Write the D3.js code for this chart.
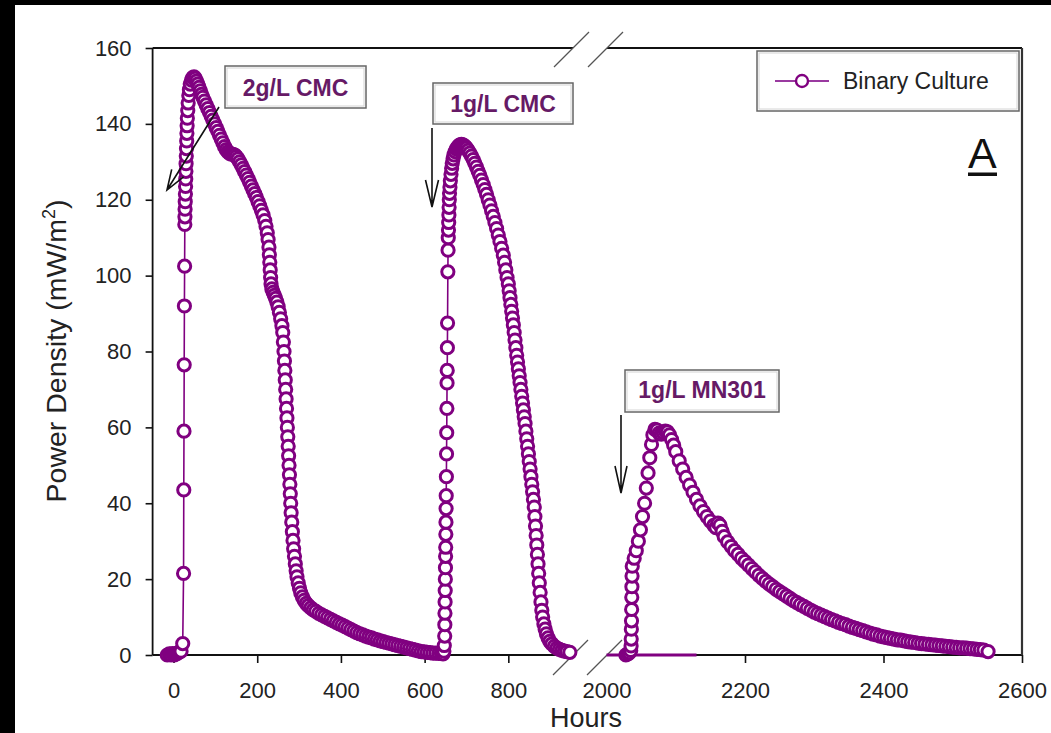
<!DOCTYPE html>
<html><head><meta charset="utf-8">
<script src="https://cdn.jsdelivr.net/npm/d3@7"></script>
<style>
body{margin:0;background:#fff;}
svg{display:block;}
text{font-family:"Liberation Sans", Arial, Helvetica, sans-serif;}
</style></head><body>
<svg id="chart" width="1051" height="733"></svg>
<script>
// ---------------- data ----------------
const yTicks = [0, 20, 40, 60, 80, 100, 120, 140, 160];
const leftTicks = [0, 200, 400, 600, 800];
const rightTicks = [2000, 2200, 2400, 2600];
const seriesName = "Binary Culture";
const annotationLabels = ["2g/L CMC", "1g/L CMC", "1g/L MN301"];
const panelLabel = "A";
const xTitle = "Hours";

// [hours, power density mW/m2]
const run2gCMC = [
[-15,0],[-10,0.3],[-6,0],[-2,0.4],[2,0],[6,0.3],[10,0.5],[14,0.8],[18,1],[22,3],
[24,21.5],[24.5,43.5],[25,59],[25.5,76.5],[26,92],[26.5,102.5],[27,113.5],[27.3,115.5],[27.6,117.5],[28,119.5],
[28.4,121.5],[28.8,123.5],[29.2,125.5],[29.6,127.5],[30,129.5],[30.5,131.5],[31,133.5],[31.5,135.5],[32,137.5],[32.5,139.5],
[33,141.5],[34,143.5],[35,145.5],[36.5,147.5],[38,149],[40,150.5],[43,151.5],[46,152.2],[49,152.4],[52,152],
[55,151.3],[58,150.5],[61,149.6],[64,148.7],[67,147.8],[70,147],[74,146],[78,145],[82,144],[86,143],
[90,142],[94,141],[98,140],[102,139],[106,138],[110,137],[114,136],[118,135],[122,134],[126,133.2],
[130,132.6],[134,132.2],[138,132],[142,132],[146,131.8],[150,131.4],[154,130.8],[158,130],[162,129.2],[166,128.3],
[170,127.4],[174,126.5],[178,125.6],[182,124.6],[186,123.6],[190,122.6],[194,121.6],[198,120.6],[202,119.5],[206,118.4],
[210,117.2],[214,116],[218,114.5],[221,113],[224,111.3],[226,109.5],[228,107.5],[229,105.5],[230,103.5],[231,101.5],
[232,99.5],[233,97.8],[235,96.5],[238,95.6],[241,94.8],[244,94],[247,93],[250,91.8],[253,90.3],[256,88.6],
[259,86.8],[261,85],[262.5,82.5],[264,80],[265,77.5],[266,75],[267,72.5],[268,70],[269,67.5],[270,65],
[271,62.5],[272,60],[273,57.5],[274,55],[275,52.5],[276,50],[277,47.5],[278,45],[279,42.5],[280,40],
[281,37.5],[282.5,35],[284,32.5],[285.5,30.2],[287,28],[289,26],[291,24],[293,22.2],[295,20.6],[298,19],
[301,17.6],[304,16.4],[308,15.3],[312,14.4],[317,13.6],[322,13],[328,12.4],[334,11.9],[340,11.5],[347,11],
[354,10.6],[361,10.2],[368,9.8],[375,9.4],[382,9],[389,8.6],[396,8.2],[403,7.9],[410,7.5],[417,7.1],
[424,6.7],[431,6.3],[438,5.9],[445,5.6],[452,5.3],[459,5],[466,4.7],[473,4.5],[480,4.2],[487,4],
[494,3.7],[501,3.5],[508,3.3],[515,3.1],[522,2.9],[529,2.7],[536,2.5],[543,2.3],[550,2.1],[557,1.9],
[564,1.7],[571,1.5],[578,1.3],[585,1.1],[592,0.9],[599,0.8],[606,0.7],[613,0.6],[620,0.5],[627,0.5],
[634,0.4],[640,0.5]
];

const run1gCMC = [
[644,0.3],[646,1],[647,2.5],[648,5],[648.3,8],[648.6,11],[648.9,14],[649.2,17],[649.5,20],[649.8,23],
[650.1,26],[650.4,28.4],[650.7,31.8],[651,35],[651.3,38.6],[651.6,42],[652,47],[652.4,53],[652.8,58.6],[653.2,65],
[653.6,71.7],[654,75],[654.4,81],[654.8,87.5],[655.5,101],[656,106.7],[656.5,110],[657,112],[657.5,114],[658,116],
[658.5,118],[659,120],[659.5,121.7],[660.5,123.3],[661.5,125],[663,126.7],[664.5,128.3],[666,129.6],[668,130.8],[670,131.8],
[673,132.7],[676,133.4],[679,133.9],[682,134.3],[685,134.5],[688,134.6],[691,134.5],[694,134.3],[697,134],[700,133.6],
[704,133],[708,132.3],[712,131.5],[716,130.6],[720,129.6],[724,128.6],[728,127.5],[732,126.4],[736,125.2],[740,124],
[744,122.7],[748,121.4],[752,120],[756,118.6],[760,117.1],[764,115.6],[768,114],[772,112.4],[776,110.7],[780,109],
[784,107.2],[788,105.4],[791,103.5],[794,101.5],[797,99.5],[800,97.8],[802,96],[804,94.2],[806,92.4],[808,90.6],
[810,88.8],[812,87],[814,85],[816,83],[818,81],[820,79],[822,77.2],[824,75.4],[826,73.6],[828,71.8],
[830,70],[832,68.2],[834,66.4],[836,64.6],[838,62.8],[840,61],[842,59],[844,57],[846,55],[848,53],
[850,51],[852,49],[854,47],[856,45],[858,43],[860,41],[862,39],[863.5,36.5],[865,34],[866.5,31.5],
[868,29],[869.5,26.5],[871,24],[872.5,21.5],[874,19],[876,16.5],[878,14],[880,11.8],[882,10],[885,8.2],
[888,6.8],[891,5.6],[895,4.5],[899,3.6],[904,2.9],[910,2.3],[916,1.8],[922,1.5],[928,1.2],[934,1],
[940,0.9],[947,0.7]
];

const runMN301 = [
[2028,0],[2031,0.3],[2033,0.6],[2035,1.2],[2035.5,2.4],[2035.7,4.2],[2035.9,6.8],[2036.1,9],[2036.3,12],[2036.5,15.2],
[2036.7,18],[2036.9,20.8],[2037.2,23.4],[2040,25.5],[2043,27.5],[2046,30],[2049,33],[2052,36.5],[2055,40],[2057.5,44],
[2060,48],[2062.5,52],[2065,55.5],[2067,58],[2070,59.5],[2073,59.3],[2076,58.5],[2079,58.2],[2082,58.6],[2085,59],
[2088,58.8],[2091,58],[2094,56.8],[2097,55.3],[2100,53.6],[2105,51.2],[2110,49],[2115,46.8],[2120,44.8],[2125,42.9],
[2130,41],[2135,39.3],[2140,37.8],[2145,36.5],[2150,35.3],[2155,34.2],[2158,33.6],[2161,34.8],[2164,34.2],[2167,32.6],
[2170,31.2],[2175,29.8],[2180,28.6],[2185,27.5],[2190,26.5],[2195,25.5],[2200,24.6],[2205,23.7],[2210,22.8],[2215,21.9],
[2220,21],[2225,20.2],[2230,19.4],[2235,18.7],[2240,18],[2245,17.3],[2250,16.7],[2255,16.1],[2260,15.5],[2265,14.9],
[2270,14.3],[2275,13.8],[2280,13.3],[2285,12.8],[2290,12.3],[2295,11.8],[2300,11.3],[2305,10.9],[2310,10.5],[2315,10.1],
[2320,9.7],[2325,9.3],[2330,9],[2335,8.6],[2340,8.3],[2345,8],[2350,7.6],[2355,7.3],[2360,7],[2365,6.7],
[2370,6.4],[2375,6.1],[2380,5.8],[2385,5.5],[2390,5.3],[2395,5],[2400,4.8],[2405,4.6],[2410,4.4],[2415,4.2],
[2420,4],[2425,3.9],[2430,3.7],[2435,3.5],[2440,3.4],[2445,3.3],[2450,3.1],[2455,3],[2460,2.9],[2465,2.8],
[2470,2.7],[2475,2.6],[2480,2.5],[2485,2.4],[2490,2.3],[2495,2.2],[2500,2.1],[2505,2],[2510,1.9],[2515,1.9],
[2520,1.8],[2525,1.7],[2530,1.6],[2535,1.5],[2540,1.4],[2545,1.3],[2551,0.9]
];

const mn301Baseline = [[2000,0],[2130,0]];

// ---------------- drawing ----------------
const svg = d3.select("#chart");
const purple = "#800080";
const labelPurple = "#661a66";

svg.append("rect").attr("x",0).attr("y",0).attr("width",1051).attr("height",733).attr("fill","#fff");
svg.append("rect").attr("x",0).attr("y",0).attr("width",1051).attr("height",5).attr("fill","#000");
svg.append("rect").attr("x",0).attr("y",0).attr("width",15).attr("height",733).attr("fill","#000");

const xL = d3.scaleLinear().domain([-50, 950]).range([152.6, 571.1]);
const xR = d3.scaleLinear().domain([2000, 2600]).range([606.5, 1022]);
const y = d3.scaleLinear().domain([0, 160]).range([655, 48]);

const leftEdge = xL.range()[0], rightEdge = xR.range()[1];
const yTop = y(160), yBottom = y(0);
const breakL = 573, breakR = 607;

const g = svg.append("g");

// frame (broken at the axis gap)
const frame = g.append("g").attr("stroke","#111").attr("stroke-width",1.8).attr("fill","none");
frame.append("line").attr("x1",leftEdge).attr("x2",breakL).attr("y1",yBottom).attr("y2",yBottom);
frame.append("line").attr("x1",breakR).attr("x2",rightEdge).attr("y1",yBottom).attr("y2",yBottom);
frame.append("line").attr("x1",leftEdge).attr("x2",breakL).attr("y1",yTop).attr("y2",yTop);
frame.append("line").attr("x1",breakR).attr("x2",rightEdge).attr("y1",yTop).attr("y2",yTop);
frame.append("line").attr("x1",leftEdge).attr("x2",leftEdge).attr("y1",yTop).attr("y2",yBottom);
frame.append("line").attr("x1",rightEdge).attr("x2",rightEdge).attr("y1",yTop).attr("y2",yBottom).attr("stroke","#333").attr("stroke-width",2.2);

// break slashes
const slashes = g.append("g").attr("stroke","#555").attr("stroke-width",1.2);
[breakL, breakR].forEach(cx => {
  slashes.append("line").attr("x1",cx-19).attr("y1",yTop+19).attr("x2",cx+16).attr("y2",yTop-16);
  slashes.append("line").attr("x1",cx-20).attr("y1",yBottom+20).attr("x2",cx+15).attr("y2",yBottom-15);
});

// y axis
const yAxis = g.append("g").attr("transform",`translate(${leftEdge},0)`)
  .call(d3.axisLeft(y).tickValues(yTicks).tickSize(7).tickPadding(14).tickFormat(d3.format("d")));
yAxis.select(".domain").remove();
yAxis.selectAll("line").attr("stroke","#111").attr("stroke-width",1.6);
yAxis.selectAll("text").attr("font-size",22).attr("fill","#222").attr("font-family","Liberation Sans, Arial, sans-serif");

// x axes
function styleX(ax){
  ax.select(".domain").remove();
  ax.selectAll("line").attr("stroke","#111").attr("stroke-width",1.6);
  ax.selectAll("text").attr("font-size",22).attr("fill","#222").attr("y",43).attr("dy",0)
    .attr("font-family","Liberation Sans, Arial, sans-serif");
}
const xAxisL = g.append("g").attr("transform",`translate(0,${yBottom})`)
  .call(d3.axisBottom(xL).tickValues(leftTicks).tickSize(8).tickFormat(d3.format("d")));
styleX(xAxisL);
const xAxisR = g.append("g").attr("transform",`translate(0,${yBottom})`)
  .call(d3.axisBottom(xR).tickValues(rightTicks).tickSize(8).tickFormat(d3.format("d")));
styleX(xAxisR);
xAxisR.selectAll(".tick").filter(d => d === 2000).select("line").remove();

// axis titles
svg.append("text").attr("x", 586).attr("y", 727).attr("text-anchor","middle")
  .attr("font-size",27).attr("fill","#222").text(xTitle);
const yt = svg.append("text").attr("transform","translate(66,351) rotate(-90)")
  .attr("text-anchor","middle").attr("font-size",28.5).attr("fill","#222");
yt.append("tspan").text("Power Density (mW/m");
yt.append("tspan").attr("font-size",18).attr("dy",-11).text("2");
yt.append("tspan").attr("dy",11).text(")");

// series
function drawSeries(data, x){
  const line = d3.line().x(d => x(d[0])).y(d => y(d[1]));
  g.append("path").datum(data).attr("d", line).attr("fill","none")
    .attr("stroke", purple).attr("stroke-width", 1.6);
  g.append("g").selectAll("circle").data(data).enter().append("circle")
    .attr("cx", d => x(d[0])).attr("cy", d => y(d[1])).attr("r", 6.1)
    .attr("fill", "#fff").attr("stroke", purple).attr("stroke-width", 3);
}
g.append("path").datum(mn301Baseline)
  .attr("d", d3.line().x(d => xR(d[0])).y(d => y(d[1])))
  .attr("stroke", purple).attr("stroke-width", 3).attr("fill","none");
drawSeries(run2gCMC.concat(run1gCMC), xL);
drawSeries(runMN301, xR);

// annotation boxes
function labelBox(x0, y0, w, h, text, baseline){
  svg.append("rect").attr("x",x0).attr("y",y0).attr("width",w).attr("height",h)
    .attr("fill","#fff").attr("stroke","#666").attr("stroke-width",1.5);
  svg.append("rect").attr("x",x0+2).attr("y",y0+2).attr("width",w-4).attr("height",h-4)
    .attr("fill","none").attr("stroke","#d4d4d4").attr("stroke-width",1);
  svg.append("text").attr("x", x0 + w/2).attr("y", baseline).attr("text-anchor","middle")
    .attr("font-size",23).attr("font-weight","bold").attr("fill",labelPurple).text(text);
}
labelBox(225, 66, 141, 42, annotationLabels[0], 95.5);
labelBox(433, 83, 140, 41, annotationLabels[1], 111.5);
labelBox(625, 370, 154, 42, annotationLabels[2], 398);

// arrows
function arrow(x1, y1, x2, y2, headLen, halfW){
  const dx = x2 - x1, dy = y2 - y1, L = Math.hypot(dx, dy);
  const ux = dx / L, uy = dy / L, px = -uy, py = ux;
  const bx = x2 - ux * headLen, by = y2 - uy * headLen;
  const p = d3.path();
  p.moveTo(x1, y1); p.lineTo(x2, y2);
  p.moveTo(bx + px * halfW, by + py * halfW); p.lineTo(x2, y2); p.lineTo(bx - px * halfW, by - py * halfW);
  svg.append("path").attr("d", p.toString()).attr("fill","none").attr("stroke","#111").attr("stroke-width",1.6);
}
arrow(219, 107, 167, 190, 20, 7);
arrow(432, 128, 432, 207, 27, 6.5);
arrow(621, 415, 621, 493, 27, 6);

// legend
svg.append("rect").attr("x",757).attr("y",51).attr("width",262).attr("height",60)
  .attr("fill","#fff").attr("stroke","#666").attr("stroke-width",1.5);
svg.append("rect").attr("x",759).attr("y",53).attr("width",258).attr("height",56)
  .attr("fill","none").attr("stroke","#d4d4d4").attr("stroke-width",1);
svg.append("line").attr("x1",775).attr("x2",829).attr("y1",81).attr("y2",81)
  .attr("stroke","#9a3aa0").attr("stroke-width",2);
svg.append("circle").attr("cx",802).attr("cy",81).attr("r",6)
  .attr("fill","#fff").attr("stroke",purple).attr("stroke-width",2.4);
svg.append("text").attr("x",843).attr("y",88.5).attr("font-size",23).attr("fill","#222").text(seriesName);

// panel label
svg.append("text").attr("x",968).attr("y",168).attr("font-size",43).attr("fill","#111").text(panelLabel);
svg.append("rect").attr("x",968).attr("y",172.5).attr("width",29).attr("height",3.5).attr("fill","#111");
</script>
</body></html>
